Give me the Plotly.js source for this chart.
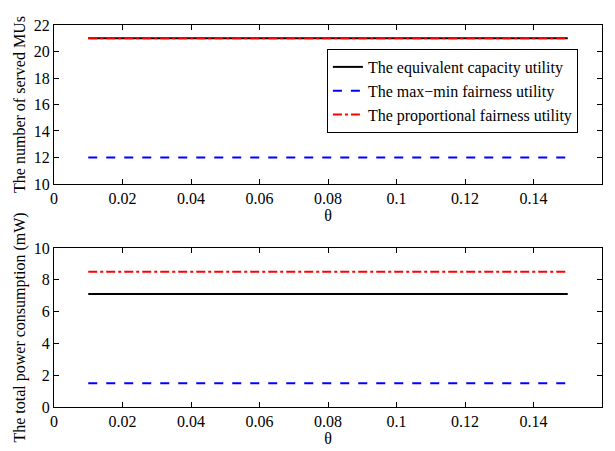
<!DOCTYPE html>
<html><head><meta charset="utf-8">
<script src="https://cdn.plot.ly/plotly-3.0.1.min.js"></script>
<style>body{margin:0;background:#fff}#c{width:615px;height:451px}</style>
</head><body><div id="c"></div>
<script>
var theta = [0.01,0.02,0.03,0.04,0.05,0.06,0.07,0.08,0.09,0.10,0.11,0.12,0.13,0.14,0.15];
var servedEq = [21,21,21,21,21,21,21,21,21,21,21,21,21,21,21];
var servedMaxMin = [12,12,12,12,12,12,12,12,12,12,12,12,12,12,12];
var servedProp = [21,21,21,21,21,21,21,21,21,21,21,21,21,21,21];
var powerEq = [7.1,7.1,7.1,7.1,7.1,7.1,7.1,7.1,7.1,7.1,7.1,7.1,7.1,7.1,7.1];
var powerMaxMin = [1.5,1.5,1.5,1.5,1.5,1.5,1.5,1.5,1.5,1.5,1.5,1.5,1.5,1.5,1.5];
var powerProp = [8.5,8.5,8.5,8.5,8.5,8.5,8.5,8.5,8.5,8.5,8.5,8.5,8.5,8.5,8.5];
var names = ['The equivalent capacity utility','The max\u2212min fairness utility','The proportional fairness utility'];
var xTicks = [0,0.02,0.04,0.06,0.08,0.1,0.12,0.14,0.16];
var xTickText = ['0','0.02','0.04','0.06','0.08','0.1','0.12','0.14','0.16'];

var styles = [
  {color:'#000000', width:2, dash:'solid'},
  {color:'#0000ff', width:2, dash:'dash'},
  {color:'#ff0000', width:2, dash:'dashdot'}
];
var servedSeries = [servedEq, servedMaxMin, servedProp];
var powerSeries = [powerEq, powerMaxMin, powerProp];
var data = [];
for (var i=0;i<3;i++){
  data.push({x:theta, y:servedSeries[i], mode:'lines', name:names[i], line:styles[i], xaxis:'x', yaxis:'y', showlegend:true});
}
for (var i=0;i<3;i++){
  data.push({x:theta, y:powerSeries[i], mode:'lines', name:names[i], line:styles[i], xaxis:'x2', yaxis:'y2', showlegend:false});
}
var font = {family:'"Liberation Serif", "Times New Roman", serif', size:16, color:'#000'};
var legFont = {family:'"Liberation Serif", "Times New Roman", serif', size:16, color:'#000'};
function ax(extra){
  var a = {showgrid:false, zeroline:false, showline:true, mirror:'ticks', linecolor:'#000', linewidth:1,
    ticks:'inside', ticklen:5, tickcolor:'#000', tickfont:font};
  for (var k in extra) a[k]=extra[k];
  return a;
}
var layout = {
  width:615, height:451,
  margin:{l:54, r:13, t:25, b:44},
  paper_bgcolor:'#fff', plot_bgcolor:'#fff',
  font:font,
  xaxis: ax({domain:[0,1], range:[0,0.16], tickvals:xTicks, ticktext:xTickText, anchor:'y',
    title:{text:'\u03b8', font:font, standoff:0}}),
  yaxis: ax({domain:[0.5838,1], range:[10,22], tickvals:[10,12,14,16,18,20,22], anchor:'x',
    title:{text:'The number of served MUs', font:font, standoff:4}}),
  xaxis2: ax({domain:[0,1], range:[0,0.16], tickvals:xTicks, ticktext:xTickText, anchor:'y2',
    title:{text:'\u03b8', font:font, standoff:0}}),
  yaxis2: ax({domain:[0,0.4162], range:[0,10], tickvals:[0,2,4,6,8,10], anchor:'x2',
    title:{text:'The total power consumption (mW)', font:font, standoff:4}}),
  legend:{x:0.498, y:0.9372, xanchor:'left', yanchor:'top', bgcolor:'#fff', bordercolor:'#000', borderwidth:1,
    font:legFont, tracegroupgap:0, itemwidth:30},
  showlegend:true
};
Plotly.newPlot('c', data, layout, {displayModeBar:false, staticPlot:true});
</script></body></html>
